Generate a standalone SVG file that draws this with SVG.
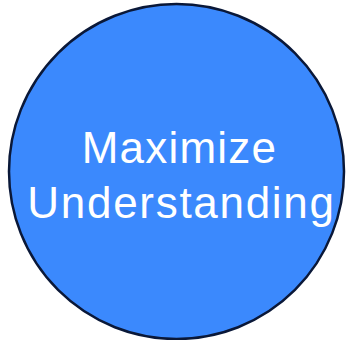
<svg xmlns="http://www.w3.org/2000/svg" width="349" height="340" viewBox="0 0 349 340">
<style>
.c{fill:#3b89fd;stroke:#0a1838;stroke-width:2.5}
.t{font-family:"Liberation Sans",Arial,sans-serif;font-size:44px;fill:#ffffff;text-anchor:middle}
</style>
<rect width="349" height="340" fill="#ffffff"/>
<g id="node-maximize-understanding">
<circle class="c" cx="176.5" cy="171.5" r="167.5"/>
<text class="t" x="179.4" y="163.3" letter-spacing="1.2">Maximize</text>
<text class="t" x="181.5" y="218.3" letter-spacing="1.7">Understanding</text>
</g>
</svg>
